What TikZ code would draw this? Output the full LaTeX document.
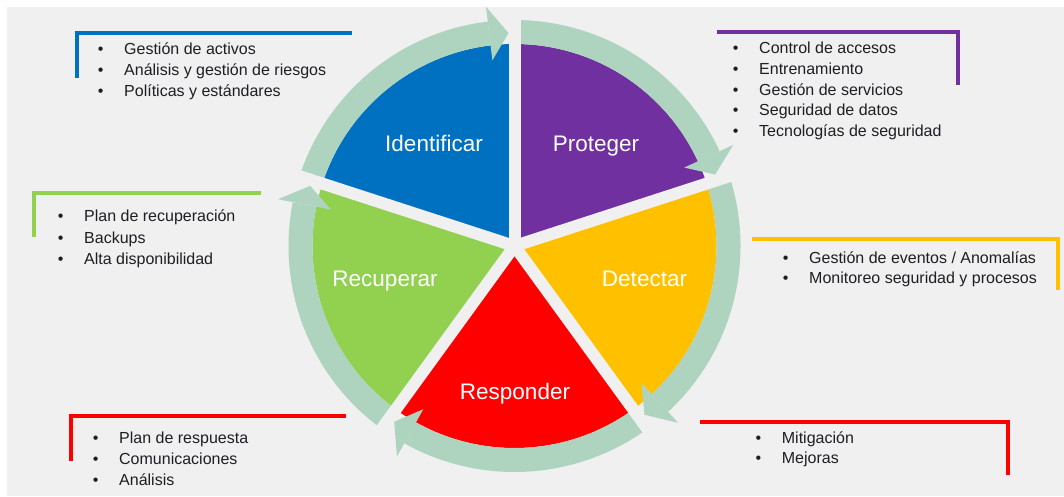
\documentclass[tikz,border=0pt]{standalone}
\usepackage{fontspec}
\setmainfont{Liberation Sans}
\usetikzlibrary{calc}
\definecolor{bgc}{HTML}{F0F0F0}
\definecolor{ringc}{HTML}{AED4C0}
\definecolor{idc}{HTML}{0070C0}
\definecolor{prc}{HTML}{7030A0}
\definecolor{dec}{HTML}{FFC000}
\definecolor{rsc}{HTML}{FF0000}
\definecolor{rcc}{HTML}{92D050}
\definecolor{txc}{HTML}{1E1E24}
\newcommand{\rsec}{202}
\newcommand{\rring}{214}
\newcommand{\bul}{\llap{•\hspace{20.7pt}}}

\begin{document}
\begin{tikzpicture}[x=1pt,y=1pt,
  phase/.style={text=white,font=\fontsize{22.5}{26}\selectfont,inner sep=0,anchor=base},
  item/.style={text=txc,font=\fontsize{16}{19}\selectfont,inner sep=0,anchor=base west},
  bracket/.style={line width=3.8pt},
  ringarc/.style={draw=ringc,line width=24pt},
  gap/.style={draw=bgc,line width=12pt}]
\useasboundingbox (0,-496) rectangle (1064,0);
\fill[white] (0,-496) rectangle (1064,0);
\fill[bgc] (7,-496) rectangle (1064,-7);
\coordinate (C) at (514.5,-246);
%sectors
\fill[idc] (C) -- ($(C)+(90:\rsec)$) arc[start angle=90,end angle=162,radius=\rsec] -- cycle;
\fill[prc] (C) -- ($(C)+(18:\rsec)$) arc[start angle=18,end angle=90,radius=\rsec] -- cycle;
\fill[dec] (C) -- ($(C)+(-54:\rsec)$) arc[start angle=-54,end angle=18,radius=\rsec] -- cycle;
\fill[rsc] (C) -- ($(C)+(-126:\rsec)$) arc[start angle=-126,end angle=-54,radius=\rsec] -- cycle;
\fill[rcc] (C) -- ($(C)+(162:\rsec)$) arc[start angle=162,end angle=234,radius=\rsec] -- cycle;
%ring
\draw[ringarc] ($(C)+(162:\rring)$) arc[start angle=162,end angle=96.8,radius=\rring];
\draw[ringarc] ($(C)+(90:\rring)$) arc[start angle=90,end angle=24.8,radius=\rring];
\draw[ringarc] ($(C)+(18:\rring)$) arc[start angle=18,end angle=-47.2,radius=\rring];
\draw[ringarc] ($(C)+(-54:\rring)$) arc[start angle=-54,end angle=-119.2,radius=\rring];
\draw[ringarc] ($(C)+(234:\rring)$) arc[start angle=234,end angle=168.8,radius=\rring];
%gaps
\foreach \a in {90,18,-54,-126,162}
  \draw[gap] (C) -- ($(C)+(\a:234)$);
%arrow heads
\foreach \b in {96.8,24.8,-47.2,-119.2,168.8}
  \fill[ringc] ($(C)+(\b:187)$) -- ($(C)+(\b:241)$) -- ($(C)+(\b-5.2:213)$) -- cycle;
%labels
\node[phase] (ident) at (434,-151.5) {Identificar};
\node[phase] (prot) at (596,-151.5) {Proteger};
\node[phase] (detec) at (644.5,-286) {Detectar};
\node[phase] (recup) at (385,-286) {Recuperar};
\node[phase] (resp) at (515,-399.5) {Responder};
%brackets
\draw[idc,bracket] (77,-78) -- (77,-32.7) -- (352,-32.7);
\draw[prc,bracket] (717,-32) -- (958.3,-32) -- (958.3,-85);
\draw[dec,bracket] (751.7,-239) -- (1058.3,-239) -- (1058.3,-290);
\draw[rcc,bracket] (33.8,-237.3) -- (33.8,-193) -- (261,-193);
\draw[rsc,bracket] (70.8,-461) -- (70.8,-415.7) -- (345.7,-415.7);
\draw[rsc,bracket] (700,-422) -- (1008,-422) -- (1008,-475);
%lists
\foreach \t [count=\i] in {Gestión de activos,Análisis y gestión de riesgos,Políticas y estándares}
  \node[item] (idl\i) at (124,{-54.5-21*(\i-1)}) {\bul\ignorespaces\t};
\foreach \t [count=\i] in {Control de accesos,Entrenamiento,Gestión de servicios,Seguridad de datos,Tecnologías de seguridad}
  \node[item] (prl\i) at (759,{-53.5-20.8*(\i-1)}) {\bul\ignorespaces\t};
\foreach \t [count=\i] in {Gestión de eventos / Anomalías,Monitoreo seguridad y procesos}
  \node[item] (del\i) at (809,{-263.3-20*(\i-1)}) {\bul\ignorespaces\t};
\foreach \t [count=\i] in {Plan de recuperación,Backups,Alta disponibilidad}
  \node[item] (rcl\i) at (84,{-221.7-21.3*(\i-1)}) {\bul\ignorespaces\t};
\foreach \t [count=\i] in {Plan de respuesta,Comunicaciones,Análisis}
  \node[item] (rsl\i) at (119,{-443.3-21*(\i-1)}) {\bul\ignorespaces\t};
\foreach \t [count=\i] in {Mitigación,Mejoras}
  \node[item] (mil\i) at (781.7,{-443.3-20*(\i-1)}) {\bul\ignorespaces\t};
\end{tikzpicture}
\end{document}
